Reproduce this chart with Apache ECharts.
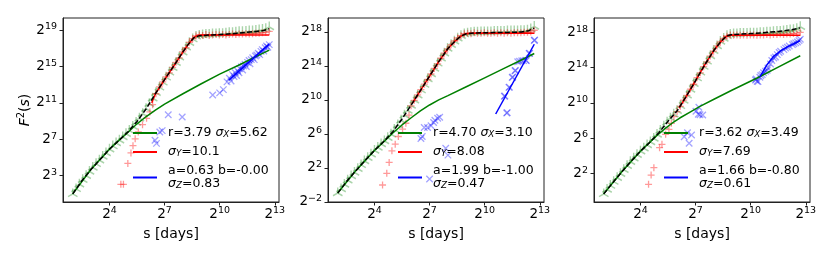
<!DOCTYPE html>
<html><head><meta charset="utf-8">
<script src="https://cdn.jsdelivr.net/npm/echarts@6/dist/echarts.min.js"></script>
<style>html,body{margin:0;padding:0;background:#fff}#c{width:830px;height:256px}</style>
</head><body><div id="c"></div>
<script>
// ---- data: all values are log2 exponents ----
const sGrid = [2.00,2.18,2.36,2.54,2.73,2.91,3.09,3.27,3.45,3.63,3.81,4.00,4.18,4.36,4.54,4.72,4.90,5.08,5.27,5.45,5.63,5.81,5.99,6.17,6.35,6.53,6.72,6.90,7.08,7.26,7.44,7.62,7.80,7.98,8.17,8.35,8.53,8.71,8.89,9.07,9.25,9.43,9.61,9.80,9.98,10.16,10.34,10.52,10.70,10.88,11.06,11.24,11.43,11.61,11.79,11.97,12.15,12.33,12.51,12.70];

const xTicks = [4, 7, 10, 13];
const p1YTicks = [3, 7, 11, 15, 19];
const p2YTicks = [-2, 2, 6, 10, 14, 18];
const p3YTicks = [2, 6, 10, 14, 18];

const p1Names = ['r=3.79 σX=5.62', 'σY=10.1', 'a=0.63 b=-0.00\nσZ=0.83'];
const p2Names = ['r=4.70 σX=3.10', 'σY=8.08', 'a=1.99 b=-1.00\nσZ=0.47'];
const p3Names = ['r=3.62 σX=3.49', 'σY=7.69', 'a=1.66 b=-0.80\nσZ=0.61'];

// panel 1
const p1Tri = [1.0,1.55,2.05,2.55,3.0,3.45,3.9,4.3,4.7,5.1,5.5,5.9,6.25,6.6,6.9,7.25,7.6,7.95,8.4,8.85,9.3,9.8,10.35,10.9,11.5,12.1,12.7,13.25,13.8,14.35,14.85,15.4,16.0,16.55,17.1,17.6,18.0,18.3,18.4,18.45,18.5,18.5,18.55,18.55,18.6,18.6,18.65,18.7,18.7,18.75,18.8,18.8,18.85,18.9,18.9,18.95,19.0,19.05,19.15,19.34];
const p1Plus = [[4.62,2.05],[4.76,2.05],[5.0,4.35],[5.17,5.5],[5.28,6.3],[5.4,7.05],[5.57,7.8],[5.8,8.6],[6.02,9.3],[6.2,10.0],[6.35,10.8],[6.53,12.0],[6.72,12.75],[6.9,13.3],[7.08,13.85],[7.26,14.3],[7.44,14.9],[7.62,15.45],[7.8,15.95],[7.98,16.6],[8.17,17.05],[8.35,17.65],[8.53,18.05],[8.71,18.35],[8.89,18.45],[9.07,18.4],[9.25,18.5],[9.43,18.4],[9.61,18.45],[9.8,18.5],[9.98,18.45],[10.16,18.5],[10.34,18.45],[10.52,18.5],[10.7,18.55],[10.88,18.5],[11.06,18.55],[11.24,18.55],[11.43,18.6],[11.61,18.55],[11.79,18.6],[11.97,18.65],[12.15,18.65],[12.33,18.7],[12.51,18.75],[12.7,18.85]];
const p1Cross = [[6.48,6.9],[6.56,6.55],[6.74,7.8],[6.87,7.95],[7.2,9.7],[7.96,9.45],[9.62,11.86],[10.0,12.1],[10.2,12.45],[10.4,13.3],[10.53,13.7],[10.62,13.4],[10.7,14.1],[10.78,13.9],[10.85,14.3],[10.92,14.0],[10.98,14.5],[11.05,14.3],[11.1,14.75],[11.18,14.95],[11.25,14.6],[11.3,15.05],[11.38,15.25],[11.45,15.0],[11.52,15.45],[11.6,15.65],[11.65,15.3],[11.72,15.75],[11.8,15.95],[11.88,15.75],[11.95,16.15],[12.02,16.25],[12.1,16.45],[12.18,16.3],[12.25,16.65],[12.32,16.85],[12.4,16.7],[12.48,17.05],[12.55,17.25],[12.62,17.1],[12.7,17.4]];
const p1Green = [[2.0,1.0],[3.0,3.7],[4.0,5.9],[4.5,6.85],[5.0,7.75],[5.5,8.7],[6.0,9.5],[6.5,10.2],[7.0,10.85],[8.0,12.0],[9.0,13.1],[10.0,14.15],[11.0,15.1],[12.0,16.1],[12.7,16.8]];
const p1Red = [[6.3,11.0],[6.5,12.0],[7.0,13.55],[7.5,15.05],[8.0,16.6],[8.3,17.45],[8.6,18.2],[8.8,18.42],[9.0,18.44],[12.7,18.44]];
const p1Blue = [[10.5,13.5],[12.7,17.45]];
const p1Dash = [[2.0,1.0],[2.5,2.45],[3.0,3.7],[3.5,4.8],[4.0,5.9],[4.5,6.85],[5.0,7.8],[5.5,8.95],[6.0,10.35],[6.5,12.0],[7.0,13.55],[7.5,15.05],[8.0,16.6],[8.3,17.45],[8.6,18.15],[8.9,18.38],[9.5,18.45],[10.0,18.5],[10.7,18.6],[11.5,18.75],[12.0,18.85],[12.4,18.95],[12.7,19.15]];

// panel 2
const p2Tri = [-0.97,-0.5,0.05,0.55,1.05,1.45,1.9,2.35,2.8,3.2,3.6,4.05,4.4,4.8,5.15,5.55,5.95,6.5,7.05,7.6,8.2,8.75,9.35,9.95,10.55,11.15,11.8,12.45,13.05,13.7,14.3,14.9,15.5,16.05,16.5,16.9,17.25,17.55,17.75,17.85,17.9,17.95,17.95,18.0,18.0,18.0,18.0,18.05,18.05,18.05,18.05,18.1,18.1,18.1,18.1,18.15,18.15,18.2,18.35,18.64];
const p2Plus = [[4.44,-0.02],[4.67,1.35],[4.8,2.64],[4.95,4.0],[5.13,4.79],[5.3,5.69],[5.53,6.55],[5.71,7.25],[5.88,8.2],[5.99,9.3],[6.17,9.95],[6.35,10.6],[6.53,11.2],[6.72,11.85],[6.9,12.4],[7.08,13.05],[7.26,13.7],[7.44,14.25],[7.62,14.9],[7.8,15.5],[7.98,16.0],[8.17,16.5],[8.35,16.95],[8.53,17.3],[8.71,17.55],[8.89,17.8],[9.07,17.85],[9.25,17.8],[9.43,17.9],[9.61,17.85],[9.8,17.85],[9.98,17.9],[10.16,17.85],[10.34,17.85],[10.52,17.9],[10.7,17.85],[10.88,17.9],[11.06,17.85],[11.24,17.9],[11.43,17.85],[11.61,17.9],[11.79,17.9],[11.97,17.9],[12.15,17.95],[12.33,17.95],[12.51,18.0],[12.7,18.2]];
const p2Cross = [[6.53,5.46],[6.6,5.7],[6.71,6.75],[6.89,6.75],[7.08,6.95],[7.22,7.33],[7.29,7.6],[7.44,7.84],[7.55,7.95],[7.88,4.3],[8.0,3.5],[7.0,0.69],[11.2,8.46],[11.23,8.5],[11.07,10.42],[11.1,10.45],[11.32,11.47],[11.35,11.5],[11.5,12.64],[11.53,12.7],[11.65,13.43],[11.68,13.45],[11.8,14.48],[11.9,14.55],[12.02,14.6],[12.12,14.62],[12.24,14.67],[12.27,14.62],[12.42,15.46],[12.45,15.5],[12.7,17.0],[12.72,17.05]];
const p2Green = [[2.0,-0.97],[3.0,1.7],[4.0,4.05],[4.5,5.05],[5.0,6.1],[5.5,7.05],[6.0,7.9],[6.5,8.7],[7.0,9.4],[7.5,10.0],[8.0,10.5],[9.0,11.55],[10.0,12.6],[11.0,13.65],[12.0,14.7],[12.7,15.46]];
const p2Red = [[6.05,9.55],[6.5,11.1],[7.0,12.8],[7.5,14.5],[8.0,16.05],[8.4,16.95],[8.7,17.5],[8.95,17.8],[9.2,17.84],[12.7,17.84]];
const p2Blue = [[10.6,8.34],[12.7,16.55]];
const p2Dash = [[2.0,-0.97],[2.5,0.45],[3.0,1.7],[3.5,2.9],[4.0,4.05],[4.5,5.1],[5.0,6.25],[5.5,7.75],[6.0,9.4],[6.5,11.1],[7.0,12.8],[7.5,14.5],[8.0,16.05],[8.4,16.95],[8.7,17.5],[9.0,17.78],[9.5,17.88],[10.5,17.92],[11.5,17.95],[12.0,18.0],[12.4,18.15],[12.7,18.45]];

// panel 3
const p3Tri = [-0.34,0.15,0.6,1.05,1.5,1.95,2.4,2.85,3.3,3.7,4.1,4.5,4.85,5.2,5.55,5.95,6.4,6.85,7.35,7.8,8.25,8.7,9.1,9.65,10.25,10.85,11.5,12.15,12.8,13.45,14.1,14.7,15.3,15.9,16.45,16.95,17.3,17.6,17.75,17.8,17.8,17.85,17.85,17.85,17.9,17.9,17.9,17.95,17.95,18.0,18.0,18.05,18.1,18.1,18.15,18.2,18.25,18.3,18.4,18.62];
const p3Plus = [[4.44,0.75],[4.58,1.8],[4.73,2.63],[5.04,4.9],[5.17,5.29],[5.37,6.42],[5.55,6.99],[5.68,7.67],[5.82,8.42],[5.99,9.0],[6.17,9.6],[6.35,10.3],[6.53,10.85],[6.72,11.55],[6.9,12.1],[7.08,12.85],[7.26,13.4],[7.44,14.1],[7.62,14.65],[7.8,15.3],[7.98,15.85],[8.17,16.45],[8.35,16.9],[8.53,17.3],[8.71,17.55],[8.89,17.7],[9.07,17.65],[9.25,17.7],[9.43,17.65],[9.61,17.7],[9.8,17.65],[9.98,17.7],[10.16,17.7],[10.34,17.65],[10.52,17.7],[10.7,17.7],[10.88,17.75],[11.06,17.7],[11.24,17.75],[11.43,17.75],[11.61,17.8],[11.79,17.75],[11.97,17.8],[12.15,17.8],[12.33,17.85],[12.51,17.9],[12.7,18.0]];
const p3Cross = [[6.38,6.15],[6.56,6.6],[6.65,5.4],[6.78,6.34],[7.02,9.03],[7.15,8.7],[7.18,9.49],[7.24,8.65],[7.39,8.62],[10.26,12.59],[10.3,12.7],[10.35,12.44],[10.4,12.4],[10.5,12.9],[10.55,13.1],[10.63,13.19],[10.7,13.4],[10.81,13.57],[10.9,13.7],[10.94,13.95],[11.08,14.4],[11.15,14.8],[11.26,15.08],[11.35,15.2],[11.45,15.46],[11.55,15.7],[11.63,15.84],[11.81,16.03],[11.9,16.2],[12.0,16.3],[12.1,16.45],[12.27,16.6],[12.35,16.7],[12.45,16.8],[12.55,16.9],[12.63,17.05],[12.7,17.2]];
const p3Green = [[2.0,-0.34],[3.0,2.2],[4.0,4.5],[4.5,5.5],[4.9,6.3],[5.3,7.0],[5.7,7.65],[6.14,8.27],[6.7,8.95],[7.24,9.6],[8.0,10.4],[9.0,11.45],[10.35,12.81],[11.5,14.05],[12.7,15.34]];
const p3Red = [[6.1,9.4],[6.5,10.75],[7.0,12.5],[7.5,14.3],[8.0,15.95],[8.4,17.0],[8.7,17.58],[8.9,17.66],[12.7,17.66]];
const p3Blue = [[10.5,12.95],[10.9,14.35],[11.26,15.3],[11.6,15.85],[12.0,16.35],[12.4,16.75],[12.7,17.05]];
const p3Dash = [[2.0,-0.34],[2.5,0.95],[3.0,2.2],[3.5,3.4],[4.0,4.5],[4.5,5.5],[5.0,6.6],[5.5,7.9],[6.0,9.1],[6.5,10.75],[7.0,12.5],[7.5,14.3],[8.0,15.95],[8.4,17.0],[8.7,17.6],[9.0,17.75],[10.0,17.85],[10.7,17.95],[11.5,18.1],[12.2,18.28],[12.7,18.5]];

// ---- layout / style ----
const FONT = 'DejaVu Sans';
const panels = [
  {left: 63,  ymin: 0.11, ymax: 20.32, yTicks: p1YTicks, tri: p1Tri, plus: p1Plus, cross: p1Cross, green: p1Green, red: p1Red, blue: p1Blue, dash: p1Dash, names: p1Names},
  {left: 328, ymin: -2.02, ymax: 19.64, yTicks: p2YTicks, tri: p2Tri, plus: p2Plus, cross: p2Cross, green: p2Green, red: p2Red, blue: p2Blue, dash: p2Dash, names: p2Names},
  {left: 594, ymin: -1.26, ymax: 19.62, yTicks: p3YTicks, tri: p3Tri, plus: p3Plus, cross: p3Cross, green: p3Green, red: p3Red, blue: p3Blue, dash: p3Dash, names: p3Names}
];
const GTOP = 18, GH = 184, GW = 216;

const TRI = 'path://M0,-1L0,0L-0.866,0.5M0,0L0.866,0.5M0,1L0,1';
const PLUS = 'path://M-1,0L1,0M0,-1L0,1';
const CROSS = 'path://M-1,-1L1,1M-1,1L1,-1';

const tickRich = {
  b: {fontFamily: FONT, fontSize: 13.5, lineHeight: 16, color: '#000'},
  p: {fontFamily: FONT, fontSize: 9.5, lineHeight: 9, verticalAlign: 'top', color: '#000'}
};
const tickFmt = v => '{b|2}{p|' + String(v).replace('-', '\u2212') + '}';

const LFS = 12.5;
const legRich = {
  g: {width: 6, fontSize: LFS, lineHeight: 13},
  i: {fontFamily: FONT, fontStyle: 'italic', fontSize: LFS, lineHeight: 13, color: '#000'},
  s: {fontFamily: FONT, fontStyle: 'italic', fontSize: 8.8, lineHeight: 7, verticalAlign: 'bottom', color: '#000'}
};
const legFmt = name => '{g| }' + name.replace(/\n/g, '\n{g| }').replace(/σ([XYZ])/g, '{i|σ}{s|$1}');

const option = {
  animation: false,
  backgroundColor: '#fff',
  grid: [], xAxis: [], yAxis: [], legend: [], series: []
};

panels.forEach((p, k) => {
  option.grid.push({left: p.left, top: GTOP, width: GW, height: GH, show: true,
    borderColor: '#222', borderWidth: 1, backgroundColor: 'transparent'});
  option.xAxis.push({
    type: 'value', gridIndex: k, min: 1.47, max: 13.23,
    axisLine: {show: true, onZero: false, lineStyle: {color: '#222', width: 1}},
    axisTick: {show: true, customValues: xTicks, length: 3.5, lineStyle: {color: '#222', width: 1}},
    axisLabel: {customValues: xTicks, formatter: tickFmt, rich: tickRich, margin: 4},
    splitLine: {show: false},
    name: 's [days]', nameLocation: 'middle', nameGap: 21,
    nameTextStyle: {fontFamily: FONT, fontSize: 14, color: '#000', lineHeight: 17}
  });
  const ya = {
    type: 'value', gridIndex: k, min: p.ymin, max: p.ymax,
    axisLine: {show: true, onZero: false, lineStyle: {color: '#222', width: 1}},
    axisTick: {show: true, customValues: p.yTicks, length: 3.5, lineStyle: {color: '#222', width: 1}},
    axisLabel: {customValues: p.yTicks, formatter: tickFmt, rich: tickRich, margin: 6},
    splitLine: {show: false}
  };
  if (k === 0) {
    ya.name = '{f|F}{u|2}{n|(}{f|s}{n|)}';
    ya.nameLocation = 'middle';
    ya.nameGap = 28;
    ya.nameRotate = 90;
    ya.nameTextStyle = {fontFamily: FONT, fontSize: 14, color: '#000', rich: {
      f: {fontFamily: FONT, fontStyle: 'italic', fontSize: 14, lineHeight: 18, color: '#000'},
      u: {fontFamily: FONT, fontSize: 10, lineHeight: 10, verticalAlign: 'top', color: '#000'},
      n: {fontFamily: FONT, fontSize: 14, lineHeight: 18, color: '#000'}
    }};
  }
  option.yAxis.push(ya);

  option.legend.push({
    orient: 'vertical', left: p.left + 70, top: 126.5, padding: 0, itemGap: 6,
    itemWidth: 24, itemHeight: 2, icon: 'rect', selectedMode: false,
    data: p.names, formatter: legFmt,
    textStyle: {fontFamily: FONT, fontSize: LFS, lineHeight: 13, color: '#000', rich: legRich}
  });

  const base = {xAxisIndex: k, yAxisIndex: k, silent: true};
  option.series.push(Object.assign({}, base, {
    type: 'scatter', z: 2, symbol: TRI, symbolSize: [9.5, 11],
    data: sGrid.map((x, i) => [x, p.tri[i]]),
    itemStyle: {color: 'rgba(0,0,0,0)', borderColor: 'rgba(0,128,0,0.42)', borderWidth: 1.5}
  }));
  option.series.push(Object.assign({}, base, {
    type: 'scatter', z: 2, symbol: PLUS, symbolSize: 7,
    data: p.plus,
    itemStyle: {color: 'rgba(0,0,0,0)', borderColor: 'rgba(255,0,0,0.5)', borderWidth: 1.3}
  }));
  option.series.push(Object.assign({}, base, {
    type: 'scatter', z: 2, symbol: CROSS, symbolSize: 6.5,
    data: p.cross,
    itemStyle: {color: 'rgba(0,0,0,0)', borderColor: 'rgba(0,0,255,0.45)', borderWidth: 1.3}
  }));
  const line = (name, data, color) => Object.assign({}, base, {
    type: 'line', name: name, z: 3, data: data, showSymbol: false, symbol: 'none',
    color: color, lineStyle: {color: color, width: 1.5}
  });
  option.series.push(line(p.names[0], p.green, '#008000'));
  option.series.push(line(p.names[1], p.red, '#ff0000'));
  option.series.push(line(p.names[2], p.blue, '#0000ff'));
  option.series.push(Object.assign({}, base, {
    type: 'line', z: 4, data: p.dash, showSymbol: false, symbol: 'none',
    lineStyle: {color: '#000', width: 1.5, type: [5, 2.2]}
  }));
});

const chart = echarts.init(document.getElementById('c'), null, {renderer: 'canvas'});
chart.setOption(option);
</script></body></html>
